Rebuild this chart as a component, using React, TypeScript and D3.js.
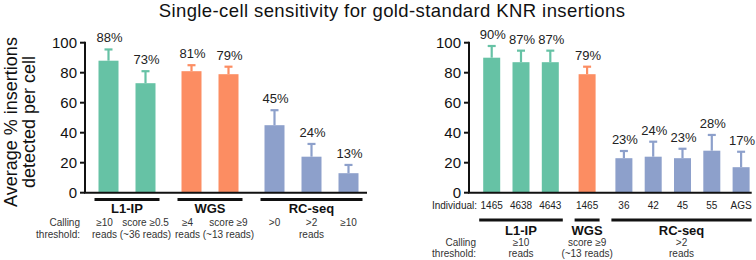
import React from "react";
import * as d3 from "d3";

// ---------- data ----------
const title = "Single-cell sensitivity for gold-standard KNR insertions";
const yLabelLines = ["Average % insertions", "detected per cell"];
const yTicks = [0, 20, 40, 60, 80, 100];
const groupNames = ["L1-IP", "WGS", "RC-seq"];
const groupColors = ["#66c2a5", "#fc8d62", "#8da0cb"];

// left panel
const leftGroupOf = [0, 0, 1, 1, 2, 2, 2];
const leftValues = [88, 73, 81, 79, 45, 24, 13];
const leftErrTop = [95.5, 81, 85, 84, 55, 32.5, 18.5];
const leftThresholdTop = ["≥10", "score ≥0.5", "≥4", "score ≥9", ">0", ">2", "≥10"];
const leftThresholdBottom = ["reads", "(~36 reads)", "reads", "(~13 reads)", "", "reads", ""];

// right panel
const rightGroupOf = [0, 0, 0, 1, 2, 2, 2, 2, 2];
const rightIndividuals = ["1465", "4638", "4643", "1465", "36", "42", "45", "55", "AGS"];
const rightValues = [90, 87, 87, 79, 23, 24, 23, 28, 17];
const rightErrTop = [97.8, 94.7, 94.7, 84, 27.8, 34, 29.3, 38.5, 27.3];
const rightThresholdTop = ["≥10", "score ≥9", ">2"];
const rightThresholdBottom = ["reads", "(~13 reads)", "reads"];

const FONT = "'Liberation Sans', Arial, Helvetica, sans-serif";

type PanelProps = {
  axisX: number;
  axisEnd: number;
  firstCenter: number;
  lastCenter: number;
  gapFrac: number;
  barWidth: number;
  groupOf: number[];
  values: number[];
  errTop: number[];
  linePad: number;
  groupLineY: number;
  groupLabelY: number;
};

function useLayout(p: PanelProps) {
  const y = d3.scaleLinear().domain([0, 100]).range([192.7, 42.7]);
  const slots = p.groupOf.map((g, i) => i + g * p.gapFrac);
  const x = d3
    .scaleLinear()
    .domain([0, slots[slots.length - 1]])
    .range([p.firstCenter, p.lastCenter]);
  const centers = slots.map((s) => x(s));
  const groups = groupNames.map((name, gi) => {
    const idx = p.groupOf.map((g, i) => (g === gi ? i : -1)).filter((i) => i >= 0);
    const x0 = Math.max(p.axisX + 4, centers[idx[0]] - p.barWidth / 2 - p.linePad);
    const x1 = Math.min(p.axisEnd, centers[idx[idx.length - 1]] + p.barWidth / 2 + p.linePad);
    return { name, gi, x0, x1, mid: (x0 + x1) / 2, idx };
  });
  return { y, centers, groups };
}

function Panel(p: PanelProps & { children?: any }) {
  const { y, centers, groups } = useLayout(p);
  return (
    <g>
      {p.values.map((v, i) => {
        const c = groupColors[p.groupOf[i]];
        const cx = centers[i];
        return (
          <g key={i}>
            <rect x={cx - p.barWidth / 2} y={y(v)} width={p.barWidth} height={y(0) - y(v)} fill={c} />
            <line x1={cx} x2={cx} y1={y(v)} y2={y(p.errTop[i])} stroke={c} strokeWidth={2.2} />
            <line x1={cx - 4} x2={cx + 4} y1={y(p.errTop[i])} y2={y(p.errTop[i])} stroke={c} strokeWidth={2.2} />
            <text x={cx + 1} y={y(p.errTop[i]) - 7} textAnchor="middle" fontSize={13} fill="#222">
              {`${v}%`}
            </text>
          </g>
        );
      })}
      <line x1={p.axisX} x2={p.axisX} y1={y(100) - 1} y2={y(0)} stroke="#111" strokeWidth={2} />
      <line x1={p.axisX - 1} x2={p.axisEnd} y1={y(0)} y2={y(0)} stroke="#111" strokeWidth={2} />
      {yTicks.map((t) => (
        <g key={t}>
          <line x1={p.axisX - 5} x2={p.axisX} y1={y(t)} y2={y(t)} stroke="#111" strokeWidth={2} />
          <text x={p.axisX - 8} y={y(t)} dy="0.36em" textAnchor="end" fontSize={15} fill="#111">
            {t}
          </text>
        </g>
      ))}
      {groups.map((g) => (
        <g key={g.name}>
          <line x1={g.x0} x2={g.x1} y1={p.groupLineY} y2={p.groupLineY} stroke="#111" strokeWidth={3} />
          <text x={g.mid} y={p.groupLabelY} textAnchor="middle" fontSize={13} fontWeight="bold" fill="#111">
            {g.name}
          </text>
        </g>
      ))}
      {p.children}
    </g>
  );
}

export default function App() {
  const leftProps: PanelProps = {
    axisX: 85,
    axisEnd: 367,
    firstCenter: 108.5,
    lastCenter: 348.5,
    gapFrac: 9 / 37,
    barWidth: 20,
    groupOf: leftGroupOf,
    values: leftValues,
    errTop: leftErrTop,
    linePad: 4,
    groupLineY: 199.5,
    groupLabelY: 212.7,
  };
  const rightProps: PanelProps = {
    axisX: 469,
    axisEnd: 751.7,
    firstCenter: 491.7,
    lastCenter: 741.1,
    gapFrac: 7.5 / 29.3,
    barWidth: 17,
    groupOf: rightGroupOf,
    values: rightValues,
    errTop: rightErrTop,
    linePad: 4,
    groupLineY: 220,
    groupLabelY: 235,
  };
  const L = useLayout(leftProps);
  const R = useLayout(rightProps);
  const small = 10;
  const leftNudge = leftGroupOf.map((g, i) => {
    const grp = L.groups[g];
    return grp.idx.length === 2 && grp.idx[0] === i ? -4 : 0;
  });
  return (
    <svg
      width={756}
      height={260}
      style={{ position: "absolute", left: 0, top: 0, display: "block", background: "#fff" }}
      fontFamily={FONT}
    >
      <rect width={756} height={260} fill="#fff" />
      <text x={392} y={16.8} textAnchor="middle" fontSize={18.5} letterSpacing={0.4} fill="#111">
        {title}
      </text>
      {yLabelLines.map((t, i) => (
        <text
          key={i}
          transform={`translate(${16.5 + i * 18.5},122) rotate(-90)`}
          textAnchor="middle"
          fontSize={18}
          fill="#111"
        >
          {t}
        </text>
      ))}

      <Panel {...leftProps}>
        <text x={80} y={226} textAnchor="end" fontSize={small} fill="#333">Calling</text>
        <text x={80} y={238} textAnchor="end" fontSize={small} fill="#333">threshold:</text>
        {leftThresholdTop.map((t, i) => (
          <g key={i}>
            <text x={L.centers[i] + leftNudge[i]} y={226} textAnchor="middle" fontSize={small} fill="#333">{t}</text>
            <text x={L.centers[i] + leftNudge[i]} y={238} textAnchor="middle" fontSize={small} fill="#333">{leftThresholdBottom[i]}</text>
          </g>
        ))}
      </Panel>

      <Panel {...rightProps}>
        <text x={477} y={209.3} textAnchor="end" fontSize={small} fill="#222">Individual:</text>
        {rightIndividuals.map((t, i) => (
          <text key={i} x={R.centers[i]} y={209.3} textAnchor="middle" fontSize={small} fill="#222">{t}</text>
        ))}
        <text x={476} y={246} textAnchor="end" fontSize={small} fill="#333">Calling</text>
        <text x={476} y={257.3} textAnchor="end" fontSize={small} fill="#333">threshold:</text>
        {R.groups.map((g, gi) => (
          <g key={gi}>
            <text x={g.mid} y={246} textAnchor="middle" fontSize={small} fill="#333">{rightThresholdTop[gi]}</text>
            <text x={g.mid} y={257.3} textAnchor="middle" fontSize={small} fill="#333">{rightThresholdBottom[gi]}</text>
          </g>
        ))}
      </Panel>
    </svg>
  );
}
